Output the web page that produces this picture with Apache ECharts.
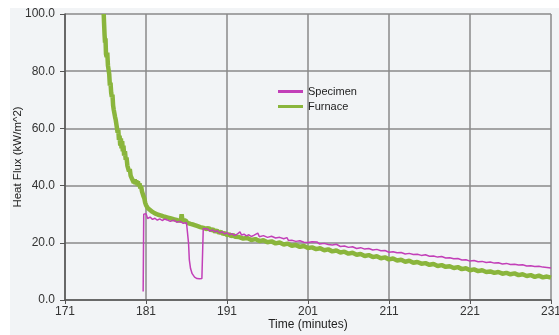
<!DOCTYPE html>
<html><head><meta charset="utf-8">
<script src="https://cdn.jsdelivr.net/npm/echarts@6/dist/echarts.min.js"></script>
<style>
html,body{margin:0;padding:0;background:#ffffff;width:559px;height:335px;overflow:hidden}
#c{position:absolute;left:10px;top:8px;width:549px;height:327px;background:#f2f4f6}
</style></head><body><div id="c"></div>
<script>
const xTicks = [171, 181, 191, 201, 211, 221, 231];
const yTicks = [0, 20, 40, 60, 80, 100];

const furnaceTime = [175.78,175.82,175.88,175.94,176.00,176.06,176.14,176.22,176.30,176.38,176.46,176.54,176.62,176.70,176.78,176.86,176.94,177.02,177.10,177.18,177.26,177.34,177.42,177.50,177.58,177.66,177.74,177.82,177.90,177.98,178.06,178.14,178.22,178.30,178.40,178.50,178.60,178.70,178.80,178.90,179.00,179.10,179.20,179.30,179.40,179.50,179.60,179.70,179.80,179.90,180.00,180.10,180.20,180.30,180.40,180.50,180.60,180.70,180.80,180.90,181.00,181.10,181.20,181.35,181.50,181.65,181.80,181.95,182.10,182.30,182.50,182.70,182.90,183.10,183.30,183.50,183.70,183.90,184.10,184.30,184.50,184.70,184.90,185.10,185.30,185.40,185.50,185.70,185.90,186.10,186.30,186.50,186.70,186.90,187.10,187.30,187.50,187.70,187.90,188.10,188.30,188.50,188.75,189.00,189.25,189.50,189.75,190.00,190.25,190.50,190.75,191.00,191.25,191.50,191.75,192.00,192.50,193.00,193.50,194.00,194.50,195.00,195.50,196.00,196.50,197.00,197.50,198.00,198.50,199.00,199.50,200.00,200.50,201.00,201.50,202.00,202.50,203.00,203.50,204.00,204.50,205.00,205.50,206.00,206.50,207.00,207.50,208.00,208.50,209.00,209.50,210.00,210.50,211.00,211.50,212.00,212.50,213.00,213.50,214.00,214.50,215.00,215.50,216.00,216.50,217.00,217.50,218.00,218.50,219.00,219.50,220.00,220.50,221.00,221.50,222.00,222.50,223.00,223.50,224.00,224.50,225.00,225.50,226.00,226.50,227.00,227.50,228.00,228.50,229.00,229.50,230.00,230.50,231.00];
const furnaceFlux = [100,97,93,90,91.5,86,85,86.5,82,80.5,79,75,76,72.5,71,71.8,68,66.5,67,64,63,63.6,60,58.5,59.5,56,57.5,54,56.5,53,55.5,52,54,50.5,52,49,49.8,47,47.6,45,45.8,43.5,44,42.2,42.8,41,42.2,40.5,41.8,40.2,41.5,39.8,40.8,39,39.8,38,37.5,36.2,35.5,34,33.2,33.6,32.2,32.8,31.5,31.9,30.8,31.2,30.3,30.8,29.8,30.2,29.5,29.8,29.1,29.5,28.8,29.3,28.5,28.9,28.2,28.6,27.9,28.4,27.7,30.0,27.8,27.4,27.8,27.0,27.4,26.6,27.0,26.3,26.6,25.9,26.2,25.5,25.9,25.2,25.5,24.8,25.2,24.4,24.7,23.9,24.3,23.5,23.8,23.1,23.4,22.7,23.0,22.3,22.7,22.1,22.0,21.5,21.7,21.0,21.3,20.6,20.9,20.2,20.5,19.8,20.1,19.4,19.7,19.0,19.2,18.6,18.9,18.2,18.4,17.8,18.1,17.4,17.7,17.0,17.3,16.6,16.9,16.2,16.5,15.8,16.1,15.4,15.7,15.0,15.3,14.6,14.9,14.2,14.5,13.8,14.1,13.4,13.7,13.0,13.3,12.7,12.9,12.3,12.6,11.9,12.2,11.6,11.8,11.2,11.5,10.8,11.1,10.4,10.7,10.1,10.4,9.8,10.0,9.5,9.8,9.2,9.5,9.0,9.3,8.7,9.0,8.4,8.7,8.1,8.5,7.9,8.2,7.8];

const specimenTime = [180.65,180.72,180.85,181.00,181.20,181.50,181.80,182.10,182.40,182.70,183.00,183.30,183.60,184.00,184.40,184.80,185.20,185.60,186.00,186.20,186.25,186.35,186.50,186.70,187.00,187.30,187.60,187.90,188.00,188.07,188.30,188.60,188.90,189.20,189.50,189.80,190.10,190.40,190.70,191.00,191.30,191.60,191.90,192.20,192.60,192.80,193.10,193.40,193.70,194.00,194.30,194.80,195.00,195.50,196.00,196.50,197.00,197.50,198.00,198.40,198.60,199.00,199.50,200.00,200.50,201.00,201.50,202.10,202.40,203.00,203.50,204.00,204.50,205.00,205.50,206.00,206.50,207.00,207.50,208.00,208.50,209.00,209.50,210.00,210.50,211.00,211.50,212.00,212.50,213.00,213.50,214.00,214.50,215.00,215.50,216.00,216.50,217.00,217.50,218.00,218.50,219.00,219.50,220.00,220.50,221.00,221.50,222.00,222.50,223.00,223.50,224.00,224.50,225.00,225.50,226.00,226.50,227.00,227.50,228.00,228.50,229.00,229.50,230.00,230.50,231.00];
const specimenFlux = [3.0,30.0,29.5,30.2,28.5,29.0,28.2,28.6,27.9,28.4,27.8,28.3,28.0,27.5,27.9,27.2,27.5,26.8,27.0,26.5,20.0,14.0,11.0,9.2,8.0,7.5,7.4,7.5,7.6,25.0,24.4,24.8,24.1,24.5,23.8,24.2,23.4,23.9,23.1,23.5,22.8,23.2,22.6,22.9,23.8,22.7,23.0,22.4,22.8,22.2,22.6,23.4,22.1,22.5,21.9,22.3,21.7,21.9,21.4,21.8,20.8,20.9,20.5,20.7,20.2,20.1,20.4,20.3,19.6,19.8,19.4,19.2,19.5,18.7,18.9,18.4,18.6,18.0,18.3,17.8,18.0,17.5,17.7,17.2,17.3,16.7,16.9,16.5,16.6,16.1,16.3,15.9,16.0,15.6,15.8,15.3,15.4,15.0,15.2,14.7,14.8,14.4,14.5,14.0,14.1,13.6,13.8,13.4,13.5,13.1,13.3,12.9,13.0,12.6,12.8,12.4,12.5,12.2,12.3,11.9,12.0,11.7,11.8,11.5,11.4,11.2];

const chart = echarts.init(document.getElementById('c'), null, {renderer:'canvas'});
const font = 'Liberation Sans, Arial, sans-serif';
chart.setOption({
  animation: false,
  backgroundColor: '#f2f4f6',
  textStyle: {fontFamily: font},
  grid: {left: 55, right: 8, top: 6, bottom: 35, containLabel: false, outerBoundsMode: 'none'},
  legend: {
    orient: 'vertical', left: 263, top: 73, itemWidth: 25, itemHeight: 3, itemGap: 4,
    textStyle: {fontSize: 11, color: '#222', fontFamily: font},
    data: [{name: 'Specimen', icon: 'rect'}, {name: 'Furnace', icon: 'rect'}]
  },
  xAxis: {
    type: 'value', min: xTicks[0], max: xTicks[xTicks.length-1], interval: 10,
    name: 'Time (minutes)', nameLocation: 'middle', nameGap: 19, nameMoveOverlap: false,
    nameTextStyle: {fontSize: 12, color: '#222', fontFamily: font},
    axisLine: {lineStyle: {color: '#555', width: 1.5}},
    axisTick: {show: true, length: 4, lineStyle: {color: '#555'}},
    axisLabel: {fontSize: 12, color: '#333', margin: 6, fontFamily: font},
    splitLine: {show: true, lineStyle: {color: '#8a8a8a', width: 1.5}}
  },
  yAxis: {
    type: 'value', min: yTicks[0], max: yTicks[yTicks.length-1], interval: 20,
    name: 'Heat Flux (kW/m^2)', nameLocation: 'middle', nameGap: 41, nameMoveOverlap: false,
    nameTextStyle: {fontSize: 11.5, color: '#222', fontFamily: font},
    axisLine: {show: true, lineStyle: {color: '#555', width: 1.5}},
    axisTick: {show: true, length: 5, lineStyle: {color: '#555'}},
    axisLabel: {fontSize: 12, color: '#333', margin: 10, fontFamily: font,
      formatter: v => v.toFixed(1)},
    splitLine: {show: true, lineStyle: {color: '#8a8a8a', width: 1.5}}
  },
  series: [
    {name: 'Furnace', type: 'line', showSymbol: false, symbol: 'none',
     data: furnaceTime.map((t, i) => [t, furnaceFlux[i]]),
     lineStyle: {color: '#8ab53c', width: 4.5}, itemStyle: {color: '#8ab53c'}, z: 2},
    {name: 'Specimen', type: 'line', showSymbol: false, symbol: 'none',
     data: specimenTime.map((t, i) => [t, specimenFlux[i]]),
     lineStyle: {color: '#c23fb8', width: 1.5}, itemStyle: {color: '#c23fb8'}, z: 3}
  ]
});
</script></body></html>
